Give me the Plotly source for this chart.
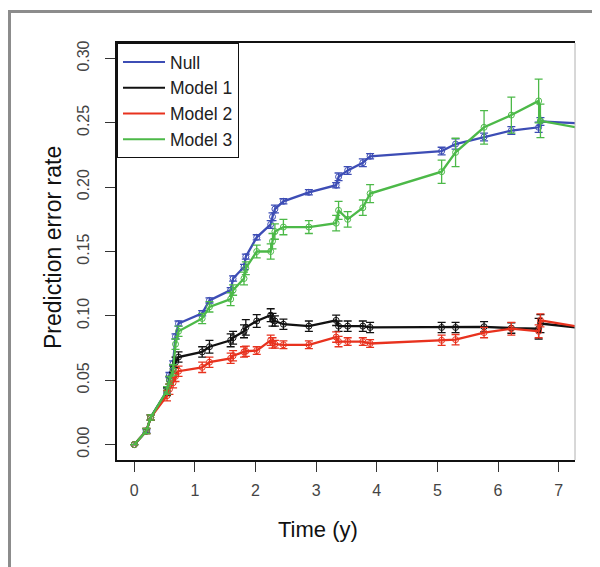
import plotly.graph_objects as go

# Time points shared by all four curves
time = [0, 0.20, 0.27, 0.54, 0.58, 0.64, 0.68, 0.73, 1.12, 1.24, 1.59, 1.63,
        1.81, 1.84, 2.02, 2.25, 2.28, 2.32, 2.46, 2.88, 3.33, 3.37, 3.52, 3.77,
        3.89, 5.07, 5.30, 5.77, 6.22, 6.67, 6.70, 7.40]

null_err_rate = [0, 0.0105, 0.021, 0.042, 0.054, 0.063, 0.084, 0.094, 0.102, 0.112,
                 0.120, 0.129, 0.138, 0.146, 0.161, 0.171, 0.177, 0.183, 0.189, 0.196,
                 0.2015, 0.208, 0.213, 0.219, 0.224, 0.228, 0.2335, 0.239, 0.244,
                 0.2465, 0.251, 0.2495]
null_se = [0, 0.001, 0.002, 0.002, 0.002, 0.002, 0.002, 0.002, 0.002, 0.002, 0.002,
           0.002, 0.002, 0.002, 0.002, 0.003, 0.003, 0.003, 0.002, 0.002, 0.002, 0.003,
           0.003, 0.003, 0.002, 0.003, 0.004, 0.003, 0.003, 0.004, 0.003, 0]

model1_err_rate = [0, 0.0105, 0.021, 0.041, 0.050, 0.059, 0.064, 0.068, 0.072, 0.076,
                   0.081, 0.083, 0.088, 0.091, 0.096, 0.1005, 0.097, 0.096, 0.0935,
                   0.092, 0.0965, 0.092, 0.092, 0.092, 0.091, 0.091, 0.091, 0.0915,
                   0.0905, 0.090, 0.094, 0.0905]
model1_se = [0, 0.002, 0.002, 0.003, 0.003, 0.003, 0.004, 0.004, 0.004, 0.005, 0.005,
             0.005, 0.005, 0.006, 0.005, 0.005, 0.005, 0.004, 0.004, 0.004, 0.004,
             0.004, 0.004, 0.004, 0.004, 0.004, 0.004, 0.004, 0.004, 0.008, 0.007, 0]

model2_err_rate = [0, 0.0105, 0.021, 0.038, 0.043, 0.048, 0.053, 0.057, 0.060, 0.064,
                   0.067, 0.069, 0.072, 0.0725, 0.073, 0.081, 0.079, 0.078, 0.0775,
                   0.0775, 0.0835, 0.080, 0.080, 0.080, 0.0785, 0.081, 0.0815, 0.087,
                   0.090, 0.088, 0.0965, 0.091]
model2_se = [0, 0.002, 0.002, 0.004, 0.004, 0.004, 0.004, 0.004, 0.004, 0.004, 0.004,
             0.004, 0.004, 0.004, 0.003, 0.004, 0.004, 0.003, 0.003, 0.003, 0.004,
             0.004, 0.003, 0.003, 0.003, 0.004, 0.004, 0.004, 0.005, 0.005, 0.005, 0]

model3_err_rate = [0, 0.0105, 0.021, 0.042, 0.050, 0.058, 0.078, 0.088, 0.098, 0.107,
                   0.113, 0.120, 0.129, 0.137, 0.150, 0.150, 0.158, 0.1655, 0.169,
                   0.169, 0.172, 0.182, 0.175, 0.184, 0.195, 0.212, 0.227, 0.2465,
                   0.256, 0.267, 0.2515, 0.2455]
model3_se = [0, 0.002, 0.002, 0.003, 0.003, 0.004, 0.004, 0.004, 0.004, 0.004, 0.005,
             0.004, 0.005, 0.005, 0.005, 0.006, 0.006, 0.006, 0.006, 0.005, 0.006,
             0.007, 0.006, 0.006, 0.007, 0.009, 0.011, 0.013, 0.014, 0.017, 0.013, 0]

series_names = ["Null", "Model 1", "Model 2", "Model 3"]
series_values = [null_err_rate, model1_err_rate, model2_err_rate, model3_err_rate]
series_se = [null_se, model1_se, model2_se, model3_se]
series_colors = ["#3d4db5", "#111111", "#e8321e", "#4cb948"]

x_ticks = [0, 1, 2, 3, 4, 5, 6, 7]
y_ticks = [0.00, 0.05, 0.10, 0.15, 0.20, 0.25, 0.30]
y_tick_text = ["0.00", "0.05", "0.10", "0.15", "0.20", "0.25", "0.30"]

fig = go.Figure()

for name, vals, se, col in zip(series_names, series_values, series_se, series_colors):
    fig.add_trace(go.Scatter(
        x=time, y=vals, mode="lines+markers", showlegend=False,
        line=dict(color=col, width=2.3),
        marker=dict(symbol="circle-open", size=6, color=col, line=dict(width=1)),
        error_y=dict(type="data", array=se, visible=True, color=col,
                     thickness=1.3, width=4),
    ))

# legend entries drawn as plain lines, like the R legend
for name, col in zip(series_names, series_colors):
    fig.add_trace(go.Scatter(x=[None], y=[None], mode="lines", name=name,
                             line=dict(color=col, width=2)))

# outer grey panel frame (left and top only, the rest is cropped off)
fig.add_shape(type="path", xref="paper", yref="paper",
              path="M -0.2347,-0.26 L -0.2347,1.0755 L 1.06,1.0755",
              line=dict(color="#8c8c8c", width=3))
# thin grey line where the plot is cut on the right
fig.add_shape(type="line", xref="paper", yref="paper", x0=1, x1=1, y0=0, y1=1,
              line=dict(color="#b0b0b0", width=1))

fig.add_annotation(text="Time (y)", xref="paper", yref="paper", x=0.4389, y=-0.1655,
                   xanchor="center", yanchor="middle", showarrow=False,
                   font=dict(size=22, color="#111"))
fig.add_annotation(text="Prediction error rate", xref="paper", yref="paper",
                   x=-0.1397, y=0.5084, xanchor="center", yanchor="middle",
                   textangle=-90, showarrow=False, font=dict(size=23, color="#111"))

fig.update_xaxes(range=[-0.285, 7.27], tickvals=x_ticks, ticks="outside", ticklen=10,
                 tickcolor="#333", showline=True, linecolor="#111", linewidth=1.5,
                 mirror=True, showgrid=False, zeroline=False, ticklabelstandoff=5,
                 tickfont=dict(size=16, color="#444"))
fig.update_yaxes(range=[-0.012, 0.312], tickvals=y_ticks, ticktext=y_tick_text,
                 ticks="outside", ticklen=10, tickcolor="#333", tickangle=-90,
                 showline=True, linecolor="#111", linewidth=1.5, showgrid=False,
                 zeroline=False, ticklabelstandoff=10,
                 tickfont=dict(size=16, color="#444"))

# the page body keeps its default 8px margin, so the figure is 8px smaller
fig.update_layout(
    width=592, height=559,
    margin=dict(l=109, r=25, t=35, b=107),
    paper_bgcolor="white", plot_bgcolor="white",
    font=dict(family="Liberation Sans, Arial, sans-serif"),
    legend=dict(x=0, y=1, xanchor="left", yanchor="top", bgcolor="white",
                bordercolor="#111", borderwidth=1, itemwidth=42,
                font=dict(size=17.5, color="#222")),
)

fig.write_html("out.html")
